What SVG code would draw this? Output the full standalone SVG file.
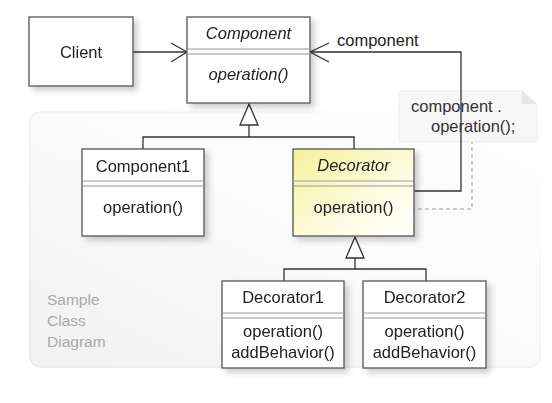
<svg xmlns="http://www.w3.org/2000/svg" width="552" height="403" viewBox="0 0 552 403">
<defs>
<style>
.box{fill:#fff;stroke:#555;stroke-width:1.3}
.sep{stroke:#999;stroke-width:1}
.t{font-family:"Liberation Sans",Arial,sans-serif;font-size:16.5px;fill:#222;text-anchor:middle}
.i{font-style:italic}
.c{fill:none;stroke:#333;stroke-width:1.3}
.bgtext{font-family:"Liberation Sans",Arial,sans-serif;font-size:15.5px;fill:#aaa}
</style>
<linearGradient id="bg" x1="0" y1="1" x2="1" y2="0">
<stop offset="0" stop-color="#f1f1f1"/>
<stop offset="0.55" stop-color="#fbfbfb"/>
<stop offset="1" stop-color="#ffffff"/>
</linearGradient>
<linearGradient id="bgs" x1="0" y1="1" x2="1" y2="0">
<stop offset="0" stop-color="#e6e6e6"/>
<stop offset="0.6" stop-color="#f4f4f4"/>
<stop offset="1" stop-color="#ffffff"/>
</linearGradient>
<linearGradient id="yel" x1="0" y1="0" x2="1" y2="1">
<stop offset="0" stop-color="#f6f19a"/>
<stop offset="0.6" stop-color="#fdfbe0"/>
<stop offset="1" stop-color="#ffffff"/>
</linearGradient>
<filter id="sh" x="-20%" y="-20%" width="150%" height="150%">
<feGaussianBlur in="SourceAlpha" stdDeviation="3"/>
<feOffset dx="4" dy="4"/>
<feComponentTransfer><feFuncA type="linear" slope="0.2"/></feComponentTransfer>
<feMerge><feMergeNode/><feMergeNode in="SourceGraphic"/></feMerge>
</filter>
</defs>
<rect x="0" y="0" width="552" height="403" fill="#fff"/>
<g id="background">
<rect x="30" y="112" width="510" height="255" rx="10" fill="url(#bg)" stroke="url(#bgs)" stroke-width="1.5"/>
<text class="bgtext" x="47" y="305">Sample</text>
<text class="bgtext" x="47" y="326">Class</text>
<text class="bgtext" x="47" y="347">Diagram</text>
</g>
<g id="note">
<path d="M399 91 H522 L537 104 V142 H399 Z" fill="#f7f7f7" stroke="#eeeeee"/>
<path d="M522 91 V104 H537 Z" fill="#e6e6e6"/>
<text class="t" style="text-anchor:start;fill:#333" x="411" y="112">component .</text>
<text class="t" style="text-anchor:start;fill:#333" x="431" y="132">operation();</text>
</g>
<g id="connectors">
<line class="c" x1="133" y1="52" x2="187" y2="52"/>
<polyline class="c" points="171,43 187,52 171,62"/>
<polyline class="c" points="414,191 461,191 461,52 310,52"/>
<polyline class="c" points="329,43 310,52 329,62"/>
<text class="t" style="text-anchor:start" x="337" y="46">component</text>
<polyline fill="none" stroke="#999" stroke-width="1" stroke-dasharray="4 3" points="397,209 472,209 472,142"/>
<polyline class="c" points="249,125 249,137"/>
<polyline class="c" points="143,149 143,137 354,137 354,149"/>
<polygon points="249,104 240,125 258,125" fill="#fff" stroke="#333" stroke-width="1.3"/>
<polyline class="c" points="355,258 355,269"/>
<polyline class="c" points="284,281 284,269 426,269 426,281"/>
<polygon points="355,237 346,258 364,258" fill="#fff" stroke="#333" stroke-width="1.3"/>
</g>
<g id="client" filter="url(#sh)">
<rect class="box" x="29" y="17" width="104" height="69"/>
<text class="t" x="81" y="58">Client</text>
</g>
<g id="component" filter="url(#sh)">
<rect class="box" x="187" y="17" width="123" height="86"/>
<line class="sep" x1="187" y1="49" x2="310" y2="49"/>
<line class="sep" x1="187" y1="54" x2="310" y2="54"/>
<text class="t i" x="248.5" y="39">Component</text>
<text class="t i" x="248.5" y="80">operation()</text>
</g>
<g id="component1" filter="url(#sh)">
<rect class="box" x="82" y="149" width="122" height="87"/>
<line class="sep" x1="82" y1="181" x2="204" y2="181"/>
<line class="sep" x1="82" y1="186" x2="204" y2="186"/>
<text class="t" x="143" y="172">Component1</text>
<text class="t" x="143" y="213">operation()</text>
</g>
<g id="decorator" filter="url(#sh)">
<rect class="box" x="293" y="149" width="121" height="87" style="fill:url(#yel)"/>
<line class="sep" x1="293" y1="181" x2="414" y2="181"/>
<line class="sep" x1="293" y1="186" x2="414" y2="186"/>
<text class="t i" x="353.5" y="171">Decorator</text>
<text class="t" x="353.5" y="213">operation()</text>
</g>
<g id="decorator1" filter="url(#sh)">
<rect class="box" x="222" y="281" width="122" height="87"/>
<line class="sep" x1="222" y1="313" x2="344" y2="313"/>
<line class="sep" x1="222" y1="318" x2="344" y2="318"/>
<text class="t" x="283" y="303">Decorator1</text>
<text class="t" x="283" y="337">operation()</text>
<text class="t" x="283" y="358">addBehavior()</text>
</g>
<g id="decorator2" filter="url(#sh)">
<rect class="box" x="363" y="281" width="123" height="87"/>
<line class="sep" x1="363" y1="313" x2="486" y2="313"/>
<line class="sep" x1="363" y1="318" x2="486" y2="318"/>
<text class="t" x="424.5" y="303">Decorator2</text>
<text class="t" x="424.5" y="337">operation()</text>
<text class="t" x="424.5" y="358">addBehavior()</text>
</g>
</svg>
